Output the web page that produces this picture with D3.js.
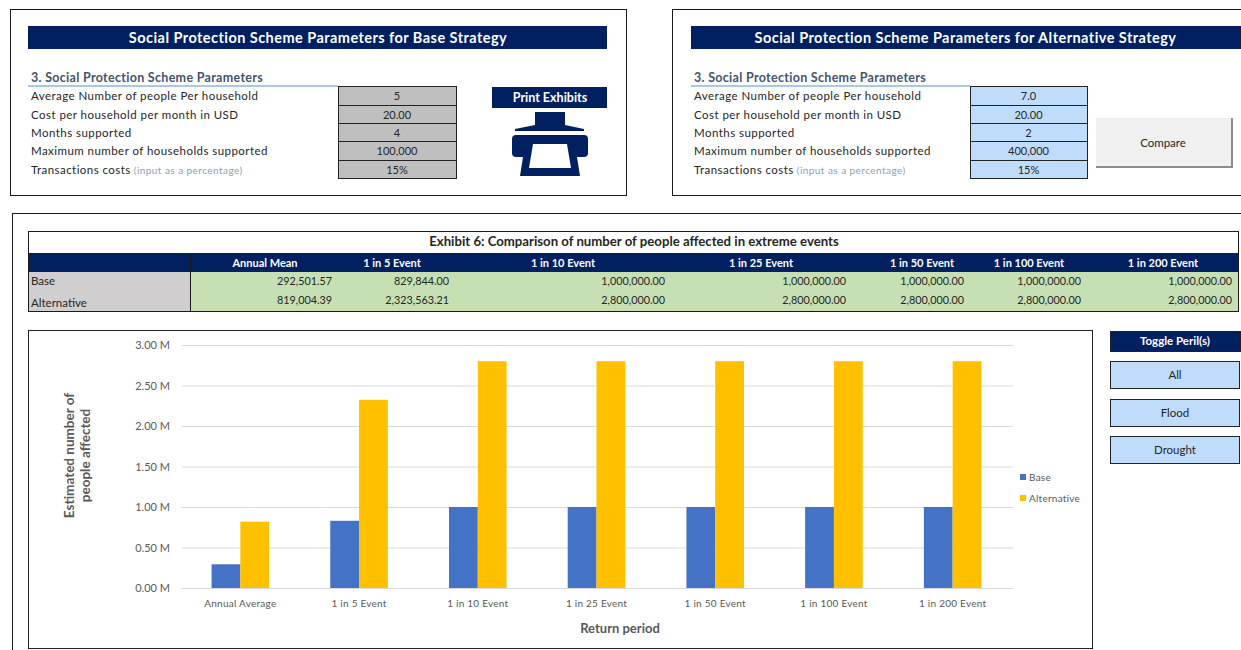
<!DOCTYPE html>
<html>
<head>
<meta charset="utf-8">
<script src="https://cdn.jsdelivr.net/npm/d3@7"></script>
<style>
html,body{margin:0;padding:0;background:#fff;overflow:hidden}
svg{display:block}
text{font-family:Lato,"Open Sans",sans-serif}
</style>
</head>
<body>
<svg id="sheet" width="1241" height="650"></svg>
<script>
// Worksheet content
const paramLabels = ["Average Number of people Per household","Cost per household per month in USD","Months supported","Maximum number of households supported","Transactions costs"];
const baseParams = ["5","20.00","4","100,000","15%"];
const altParams = ["7.0","20.00","2","400,000","15%"];
const tableHeaders = ["Annual Mean","1 in 5 Event","1 in 10 Event","1 in 25 Event","1 in 50 Event","1 in 100 Event","1 in 200 Event"];
const categories = ["Annual Average","1 in 5 Event","1 in 10 Event","1 in 25 Event","1 in 50 Event","1 in 100 Event","1 in 200 Event"];
const baseValues = [292501.57,829844.00,1000000,1000000,1000000,1000000,1000000];
const altValues = [819004.39,2323563.21,2800000,2800000,2800000,2800000,2800000];
const seriesNames = ["Base","Alternative"];
const yTicks = [0,500000,1000000,1500000,2000000,2500000,3000000];
const perilButtons = ["All","Flood","Drought"];

const NAVY="#002060", INK="#262626", FRAME="#1a1a1a";
const seriesColors=["#4472c4","#ffc000"];
const svg=d3.select("#sheet");

function box(x,y,w,h,fill,stroke,sw){
  return svg.append("rect").attr("x",x).attr("y",y).attr("width",w).attr("height",h)
    .attr("fill",fill||"none").attr("stroke",stroke||"none").attr("stroke-width",sw||1);
}
function label(x,y,t,o={}){
  return svg.append("text").attr("x",x).attr("y",y).text(t)
    .attr("font-size",o.size||11.5).attr("font-weight",o.weight||400)
    .attr("fill",o.fill||INK).attr("text-anchor",o.anchor||"start")
    .style("letter-spacing",(o.track||0)+"px");
}

// Outer sheet frames
box(10.5,9.5,616,186,"#fff",FRAME);
box(672.5,9.5,600,186,"#fff",FRAME);
box(12.5,213.5,1260,460,"#fff",FRAME);

// Parameter block shared by both strategy panels
function paramPanel(o){
  box(o.barX,26,o.barW,23,NAVY);
  label(o.titleX,43,o.title,{size:14.5,weight:700,fill:"#fff",anchor:"middle",track:.45});
  label(o.x0+3,81.5,"3. Social Protection Scheme Parameters",{size:12.5,weight:700,fill:"#44546a",track:.3});
  svg.append("line").attr("x1",o.x0).attr("x2",o.cellX).attr("y1",86).attr("y2",86).attr("stroke","#a9c8e8").attr("stroke-width",2);
  const rowEdges=[86,105,123,141,160,178];
  paramLabels.forEach((t,i)=>{
    const y=rowEdges[i]+14;
    const l=label(o.x0+3,y,t,{size:11.5,track:.45});
    if(i===4) l.append("tspan").text(" (input as a percentage)").attr("font-size",10).attr("fill","#8e9db5");
    box(o.cellX+.5,rowEdges[i]+.5,o.cellW,rowEdges[i+1]-rowEdges[i],o.cellFill,"#222");
    label(o.cellX+o.cellW/2,y,o.values[i],{anchor:"middle",size:11});
  });
}
paramPanel({barX:28,barW:579,titleX:318,title:"Social Protection Scheme Parameters for Base Strategy",x0:28,cellX:338,cellW:118,cellFill:"#bfbfbf",values:baseParams});
paramPanel({barX:691,barW:550,titleX:965.5,title:"Social Protection Scheme Parameters for Alternative Strategy",x0:691,cellX:970,cellW:117,cellFill:"#bfdcfb",values:altParams});

// Print button and icon
box(492,87,115,21,NAVY);
label(550,102,"Print Exhibits",{size:12.5,weight:700,fill:"#fff",anchor:"middle"});
svg.append("path").attr("fill",NAVY).attr("d","M535 112H565V125L584 129V131H515V129L535 125Z");
svg.append("path").attr("fill",NAVY).attr("d","M516 135H584Q588 135 588 139V153Q588 157 584 157H577L580 176H520L523 157H516Q512 157 512 153V139Q512 135 516 135Z");
svg.append("path").attr("fill","#fff").attr("d","M533 144H567L571 168H529Z");

// Compare button
box(1096,118,136,49,"#f0f0f0");
svg.append("path").attr("fill","none").attr("stroke","#8c8c8c").attr("stroke-width",2).attr("d","M1232 118V167H1096");
label(1163,147,"Compare",{anchor:"middle",size:11.5});

// Exhibit table
box(28.5,231.5,1210,80,"#fff",FRAME);
label(634,246,"Exhibit 6: Comparison of number of people affected in extreme events",{size:13.2,weight:700,anchor:"middle"});
box(28,253,1211,19,NAVY);
box(28.5,272,162,39,"#d0cece");
box(190.5,272,1048,39,"#c6e0b4");
svg.append("line").attr("x1",190.5).attr("x2",190.5).attr("y1",253).attr("y2",311).attr("stroke",FRAME);
box(28.5,231.5,1210,80,"none",FRAME);
label(31,285,seriesNames[0],{size:11.5});
label(31,307,seriesNames[1],{size:11.5});
const colRight=[332,449,665,846,964,1081,1232];
const colCentre=[265,392,563,761,922,1029,1163];
const money=d3.format(",.2f");
tableHeaders.forEach((h,i)=>{
  label(colCentre[i],267,h,{size:11,weight:700,fill:"#fff",anchor:"middle"});
  label(colRight[i],285,money(baseValues[i]),{size:10.8,anchor:"end"});
  label(colRight[i],304,money(altValues[i]),{size:10.8,anchor:"end"});
});

// Toggle buttons
box(1110.5,331.5,130,20,NAVY,"#222");
label(1175,345,"Toggle Peril(s)",{size:11.5,weight:700,fill:"#fff",anchor:"middle"});
[361,399,436].forEach((y,i)=>{
  box(1110.5,y+.5,129,27,"#bfdcfb","#222");
  label(1175,y+18,perilButtons[i],{size:11.5,anchor:"middle"});
});

// Bar chart
box(28.5,330.5,1064,318,"#fff","#222");
const x=d3.scaleBand().domain(categories).range([181,1012]).paddingInner(.515).paddingOuter(.2575);
const xSeries=d3.scaleBand().domain(seriesNames).range([0,x.bandwidth()]);
const y=d3.scaleLinear().domain([0,3000000]).range([588,345]);

const chart=svg.append("g");
const yAxis=chart.append("g").attr("transform","translate(182,0)")
  .call(d3.axisLeft(y).tickValues(yTicks).tickFormat(d=>(d/1e6).toFixed(2)+" M").tickSize(-831).tickPadding(12));
yAxis.select(".domain").remove();
yAxis.selectAll("line").attr("stroke","#d9d9d9");
yAxis.selectAll("text").attr("font-size",11).attr("fill","#595959").style("font-family","Lato");

[baseValues,altValues].forEach((vals,s)=>{
  chart.append("g").selectAll("rect").data(vals).join("rect")
    .attr("x",(d,i)=>x(categories[i])+xSeries(seriesNames[s]))
    .attr("y",d=>y(d)).attr("width",xSeries.bandwidth()).attr("height",d=>y(0)-y(d))
    .attr("fill",seriesColors[s]);
});

const xAxis=chart.append("g").attr("transform","translate(0,588)")
  .call(d3.axisBottom(x).tickSize(0).tickPadding(12));
xAxis.select(".domain").attr("stroke","#d9d9d9");
xAxis.selectAll("text").attr("font-size",10).attr("fill","#595959").style("font-family","Lato").style("letter-spacing","0.25px");

label(620,633,"Return period",{size:13,weight:700,fill:"#595959",anchor:"middle"});
const yTitle=svg.append("text").attr("transform","translate(74,455.5) rotate(-90)").attr("text-anchor","middle")
  .attr("font-size",13.5).attr("font-weight",700).attr("fill","#595959");
yTitle.append("tspan").attr("x",0).attr("dy",0).text("Estimated number of");
yTitle.append("tspan").attr("x",0).attr("dy",16).text("people affected");

// Legend
seriesNames.forEach((n,i)=>{
  const ly=477+i*21;
  box(1020,ly-3,6,6,seriesColors[i]);
  label(1029,ly+3.5,n,{size:10,fill:"#595959",track:.25});
});
</script>
</body>
</html>
